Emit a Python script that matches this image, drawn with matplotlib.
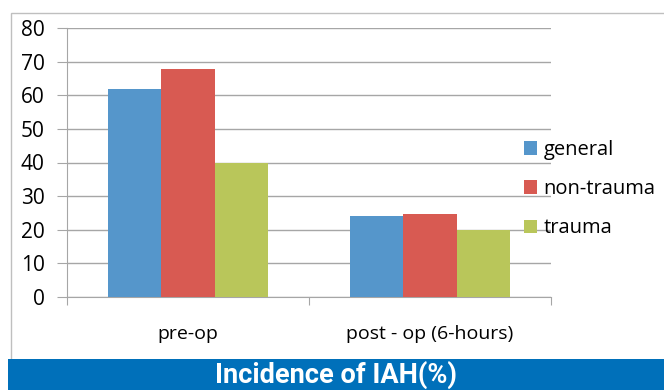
import matplotlib
matplotlib.use('Agg')
import matplotlib.pyplot as plt
from matplotlib.patches import Rectangle
import numpy as np

# data
categories = ["pre-op", "post - op (6-hours)"]
series = ["general", "non-trauma", "trauma"]
general = [62, 24]
non_trauma = [67.7, 24.8]
trauma = [40, 19.8]
colors = ["#5596CB", "#D85A52", "#B9C65A"]

W, H = 664, 390
fig = plt.figure(figsize=(W / 100, H / 100), dpi=100)
plt.rcParams['font.family'] = ['Open Sans', 'DejaVu Sans']

# outer frame
fig.add_artist(Rectangle((11 / W, 0), 1, (H - 13) / H, transform=fig.transFigure,
                         fill=False, edgecolor="#BFBFBF", linewidth=1))
# banner
fig.add_artist(Rectangle((8 / W, 0), 1, 31 / H, transform=fig.transFigure,
                         facecolor="#0070BA", edgecolor="none"))
fig.text(0.5 + 4 / W, 15 / H, "Incidence of IAH(%)", color="white", ha="center",
         va="center", fontsize=19.5, fontweight="bold", family=["Roboto", "DejaVu Sans"])

# plot area in pixels
x0, x1 = 67, 551
y0, y1 = 297, 28
ax = fig.add_axes([x0 / W, (H - y0) / H, (x1 - x0) / W, (y0 - y1) / H])

x = np.arange(len(categories))
bw = 0.22
for i, (vals, c, name) in enumerate(zip([general, non_trauma, trauma], colors, series)):
    ax.bar(x + (i - 1) * bw, vals, width=bw, color=c, label=name, zorder=3)

ax.set_xlim(-0.5, 1.5)
ax.set_ylim(0, 80)
ax.set_yticks(range(0, 81, 10))
ax.yaxis.grid(True, color="#A6A6A6", linewidth=1, zorder=0)
ax.set_xticks([-0.5, 0.5, 1.5])
ax.set_xticklabels([])
ax.set_xticks(x, minor=True)
ax.set_xticklabels(categories, minor=True, fontsize=14)
ax.tick_params(axis="x", which="minor", length=0, pad=20)
ax.tick_params(axis="x", which="major", length=6, color="#A6A6A6")
ax.tick_params(axis="y", length=7, color="#A6A6A6", labelsize=15, pad=9)
for s in ["top", "right"]:
    ax.spines[s].set_visible(False)
ax.spines["left"].set_color("#A6A6A6")
ax.spines["bottom"].set_color("#A6A6A6")

leg = fig.legend(loc="upper left", bbox_to_anchor=(506 / W, (H - 122) / H),
                 frameon=False, fontsize=14.5, handlelength=0.65, handleheight=0.65,
                 handletextpad=0.3, labelspacing=0.95)

fig.savefig("out.png", dpi=100)
